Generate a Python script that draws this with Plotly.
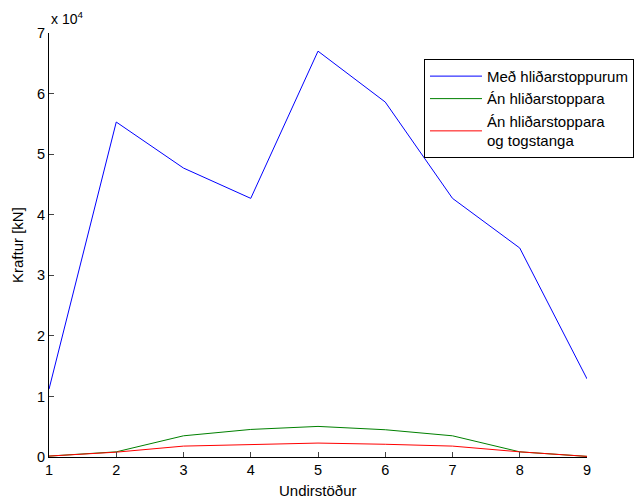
import plotly.graph_objects as go

# Support index (undirstöður)
supports = [1, 2, 3, 4, 5, 6, 7, 8, 9]

# Support forces in kN
with_side_stops = [11200, 55300, 47700, 42700, 67000, 58600, 42700, 34500, 12900]
without_side_stops = [150, 850, 3500, 4550, 5050, 4500, 3500, 850, 100]
without_side_stops_ties = [150, 800, 1800, 2100, 2300, 2100, 1800, 850, 100]

ytick_vals = [0, 10000, 20000, 30000, 40000, 50000, 60000, 70000]
ytick_text = ["0", "1", "2", "3", "4", "5", "6", "7"]

font_family = "Liberation Sans, Arial, sans-serif"

fig = go.Figure()
fig.add_trace(go.Scatter(x=supports, y=with_side_stops, mode="lines",
                         name="Með hliðarstoppurum",
                         line=dict(color="#0000ff", width=1)))
fig.add_trace(go.Scatter(x=supports, y=without_side_stops, mode="lines",
                         name="Án hliðarstoppara",
                         line=dict(color="#008000", width=1)))
fig.add_trace(go.Scatter(x=supports, y=without_side_stops_ties, mode="lines",
                         name="Án hliðarstoppara<br>og togstanga",
                         line=dict(color="#ff0000", width=1)))

fig.update_layout(
    width=641, height=499,
    margin=dict(l=49, r=54, t=33, b=42, autoexpand=False),
    paper_bgcolor="white", plot_bgcolor="white",
    font=dict(family=font_family, size=15, color="black"),
    showlegend=True,
    legend=dict(x=0.697, y=0.939, xanchor="left", yanchor="top",
                bgcolor="white", bordercolor="black", borderwidth=1,
                font=dict(size=15), tracegroupgap=0, itemwidth=52),
    annotations=[
        dict(text="x 10<sup>4</sup>", xref="paper", yref="paper",
             x=0, y=1, xanchor="left", yanchor="bottom",
             yshift=4, showarrow=False, font=dict(size=14)),
        dict(text="Undirstöður", xref="paper", yref="paper",
             x=0.5, y=0, xanchor="center", yanchor="middle",
             yshift=-33, showarrow=False, font=dict(size=15)),
        dict(text="Kraftur [kN]", xref="paper", yref="paper",
             x=0, y=0.5, xanchor="center", yanchor="middle", textangle=-90,
             xshift=-32, showarrow=False, font=dict(size=15)),
    ],
)

fig.update_xaxes(range=[1, 9], tickvals=supports, ticks="inside", ticklen=5,
                 showline=True, linecolor="black", linewidth=1,
                 showgrid=False, zeroline=False, tickfont=dict(size=14.5),
                 automargin=False)
fig.update_yaxes(range=[0, 70000], tickvals=ytick_vals, ticktext=ytick_text,
                 ticks="inside", ticklen=5,
                 showline=True, linecolor="black", linewidth=1,
                 showgrid=False, zeroline=False, tickfont=dict(size=14.5),
                 automargin=False)

fig.write_html("out.html")
